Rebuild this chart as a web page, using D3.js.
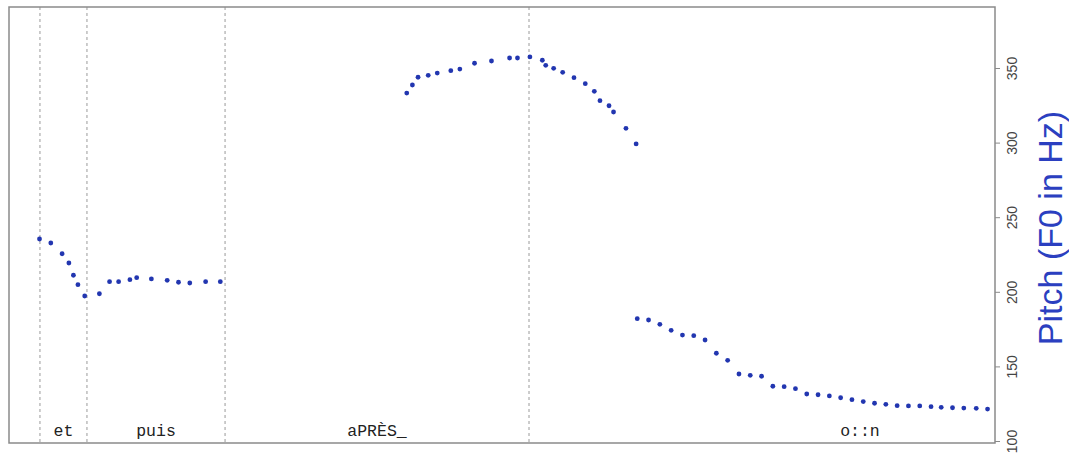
<!DOCTYPE html>
<html>
<head>
<meta charset="utf-8">
<script src="https://cdn.jsdelivr.net/npm/d3@7"></script>
<style>
  html, body { margin: 0; padding: 0; background: #fff; }
  svg { display: block; }
</style>
</head>
<body>
<svg id="chart"></svg>
<script>
// [A] Datos ------------------------------------------------------------------
// tiempo (s) de cada punto de F0
const pitchTime = [
  0.027, 0.037, 0.047, 0.053, 0.057, 0.061, 0.067, 0.080, 0.089, 0.097,
  0.107, 0.113, 0.126, 0.140, 0.150, 0.160, 0.174, 0.187,
  0.352, 0.357, 0.362, 0.371, 0.379, 0.391, 0.399, 0.412, 0.427, 0.443,
  0.450, 0.461, 0.472, 0.475, 0.482, 0.490, 0.500, 0.510, 0.518, 0.523,
  0.531, 0.535, 0.546, 0.555,
  0.556, 0.566, 0.576, 0.586, 0.596, 0.606, 0.616, 0.626, 0.636, 0.646,
  0.656, 0.666, 0.676, 0.686, 0.696, 0.706, 0.716, 0.726, 0.736, 0.746,
  0.756, 0.766, 0.776, 0.786, 0.796, 0.806, 0.816, 0.825, 0.835, 0.845,
  0.856, 0.866
];
// F0 en Hz
const pitchHz = [
  235.4, 232.7, 225.5, 219.3, 211.1, 204.8, 197.2, 198.7, 206.8, 206.8,
  208.1, 209.5, 208.6, 207.7, 206.4, 205.9, 206.8, 206.8,
  333.2, 338.6, 343.8, 345.1, 346.6, 348.2, 349.3, 353.2, 354.7, 356.7,
  356.7, 357.4, 355.2, 351.8, 349.8, 347.1, 343.5, 339.5, 334.4, 328.1,
  324.7, 320.5, 309.6, 299.1,
  182.0, 181.1, 178.2, 174.2, 171.0, 170.6, 167.7, 158.8, 154.1, 144.9,
  144.0, 143.4, 136.7, 136.4, 135.1, 131.5, 131.0, 130.2, 129.0, 127.7,
  126.4, 125.3, 124.6, 123.7, 123.5, 123.5, 123.0, 122.6, 122.3, 122.1,
  121.9, 121.4
];
// palabras y sus limites (s)
const wordLabels = ["et", "puis", "aPRÈS_", "o::n"];
const wordStart = [0.0274, 0.0690, 0.1912, 0.4602];
const wordEnd   = [0.0690, 0.1912, 0.4602, 1.046];
// marcas del eje Y
const yTicks = [100, 150, 200, 250, 300, 350];
const timeDomain = [0, 0.8726];

// [B] Configuracion ----------------------------------------------------------
const width = 1069;
const height = 458;
const box = { left: 9, top: 7, right: 995, bottom: 443 };

const svg = d3.select("#chart")
    .attr("width", width)
    .attr("height", height);

const x = d3.scaleLinear().domain(timeDomain).range([box.left, box.right]);
const y = d3.scaleLinear().domain([100, 350]).range([441, 68]);

// [C] Limites de palabras (lineas discontinuas) ------------------------------
const bounds = Array.from(new Set(wordStart.concat(wordEnd)))
    .filter(t => x(t) > box.left && x(t) < box.right);

svg.append("g")
    .selectAll("line")
    .data(bounds)
    .join("line")
    .attr("x1", d => x(d)).attr("x2", d => x(d))
    .attr("y1", box.top).attr("y2", box.bottom)
    .attr("stroke", "#9a9a9a")
    .attr("stroke-width", 1)
    .attr("stroke-dasharray", "3,3");

// [D] Etiquetas de palabras --------------------------------------------------
svg.append("g")
    .selectAll("text")
    .data(wordLabels)
    .join("text")
    .attr("x", (d, i) => x((wordStart[i] + wordEnd[i]) / 2))
    .attr("y", 436)
    .attr("text-anchor", "middle")
    .attr("font-family", "'Liberation Mono', 'DejaVu Sans Mono', monospace")
    .attr("font-size", 16.5)
    .attr("fill", "#222")
    .text(d => d);

// [E] Puntos de F0 -----------------------------------------------------------
svg.append("g")
    .selectAll("circle")
    .data(pitchTime)
    .join("circle")
    .attr("cx", d => x(d))
    .attr("cy", (d, i) => y(pitchHz[i]))
    .attr("r", 2.4)
    .attr("fill", "#2236b0");

// [F] Marco ------------------------------------------------------------------
svg.append("rect")
    .attr("x", box.left).attr("y", box.top)
    .attr("width", box.right - box.left)
    .attr("height", box.bottom - box.top)
    .attr("fill", "none")
    .attr("stroke", "#8a8a8a")
    .attr("stroke-width", 1.5);

// [G] Eje Y a la derecha -----------------------------------------------------
const yAxis = svg.append("g")
    .attr("transform", `translate(${box.right},0)`)
    .call(d3.axisRight(y).tickValues(yTicks).tickSize(5).tickPadding(4));

yAxis.select(".domain").remove();
yAxis.selectAll(".tick line").attr("stroke", "#8a8a8a");
yAxis.selectAll(".tick text")
    .attr("font-family", "'Liberation Sans', Arial, sans-serif")
    .attr("font-size", 14)
    .attr("fill", "#444")
    .attr("text-anchor", "middle")
    .attr("transform", "rotate(-90)")
    .attr("x", 0)
    .attr("y", 17)
    .attr("dy", "0.35em");

// [H] Titulo del eje ---------------------------------------------------------
svg.append("text")
    .attr("transform", `translate(1062,228) rotate(-90)`)
    .attr("text-anchor", "middle")
    .attr("font-family", "'Liberation Sans', Arial, sans-serif")
    .attr("font-size", 34)
    .attr("fill", "#2b3fc0")
    .text("Pitch (F0 in Hz)");
</script>
</body>
</html>
